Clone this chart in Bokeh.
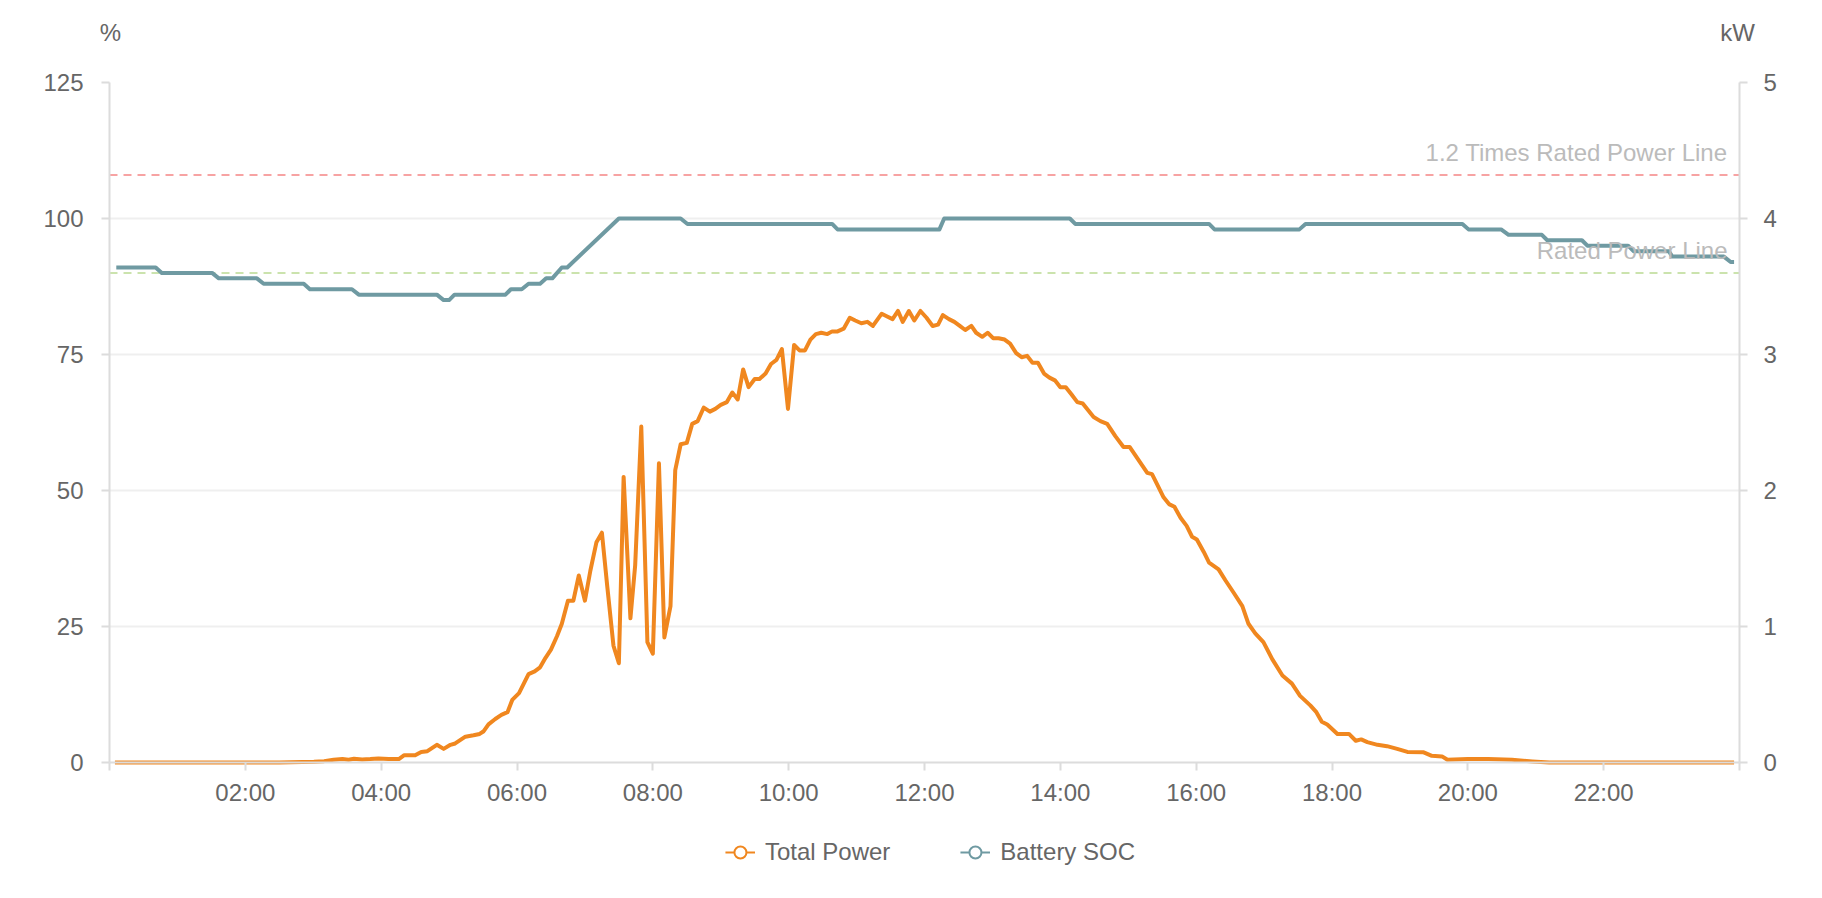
from bokeh.plotting import figure
from bokeh.layouts import column
from bokeh.models import (Range1d, LinearAxis, FixedTicker, Span, Label, Legend,
                          LegendItem, ColumnDataSource)
from bokeh.core.properties import value
from bokeh.embed import file_html
from bokeh.resources import INLINE

# ---------------- data ----------------
power_hours = [
    0.08, 2.50, 3.01, 3.16, 3.30, 3.43, 3.52, 3.60, 3.72, 3.84, 3.96, 4.11, 4.26, 4.34,
    4.50, 4.59, 4.68, 4.82, 4.92, 5.02, 5.09, 5.24, 5.36, 5.45, 5.51, 5.58, 5.68, 5.77,
    5.86, 5.93, 6.03, 6.10, 6.17, 6.26, 6.34, 6.42, 6.50, 6.59, 6.66, 6.75, 6.83, 6.91,
    7.00, 7.08, 7.17, 7.25, 7.33, 7.42, 7.50, 7.57, 7.67, 7.74, 7.83, 7.92, 8.00, 8.09,
    8.17, 8.26, 8.33, 8.41, 8.50, 8.58, 8.66, 8.75, 8.84, 8.92, 9.00, 9.09, 9.17, 9.25,
    9.33, 9.41, 9.50, 9.57, 9.66, 9.74, 9.82, 9.90, 9.99, 10.08, 10.16, 10.24, 10.32,
    10.40, 10.48, 10.57, 10.64, 10.72, 10.81, 10.90, 10.98, 11.07, 11.16, 11.24, 11.37,
    11.45, 11.53, 11.61, 11.68, 11.77, 11.85, 11.94, 12.03, 12.12, 12.20, 12.27, 12.36,
    12.44, 12.52, 12.60, 12.69, 12.76, 12.85, 12.93, 13.01, 13.09, 13.18, 13.26, 13.35,
    13.43, 13.51, 13.59, 13.67, 13.76, 13.84, 13.92, 14.00, 14.08, 14.16, 14.25, 14.33,
    14.41, 14.49, 14.59, 14.69, 14.81, 14.93, 15.02, 15.13, 15.28, 15.35, 15.42, 15.52,
    15.60, 15.68, 15.77, 15.86, 15.94, 16.01, 16.11, 16.19, 16.33, 16.43, 16.55, 16.68,
    16.77, 16.87, 16.99, 17.12, 17.27, 17.41, 17.53, 17.68, 17.77, 17.85, 17.93, 18.08,
    18.25, 18.35, 18.43, 18.52, 18.67, 18.81, 18.96, 19.11, 19.35, 19.47, 19.62, 19.70,
    20.00, 20.30, 20.65, 20.95, 21.20, 23.92,
]
power_kw = [
    0.0, 0.0, 0.005, 0.01, 0.02, 0.025, 0.02, 0.027, 0.022, 0.025, 0.03, 0.025, 0.025, 0.054,
    0.054, 0.078, 0.083, 0.13, 0.10, 0.13, 0.14, 0.19, 0.20, 0.21, 0.23, 0.28, 0.32, 0.35,
    0.37, 0.46, 0.51, 0.58, 0.65, 0.67, 0.70, 0.77, 0.83, 0.93, 1.02, 1.19, 1.19, 1.375,
    1.19, 1.41, 1.62, 1.69, 1.29, 0.86, 0.73, 2.10, 1.06, 1.45, 2.47, 0.885, 0.80, 2.20,
    0.92, 1.15, 2.15, 2.34, 2.35, 2.49, 2.51, 2.61, 2.58, 2.60, 2.63, 2.65, 2.72, 2.67,
    2.89, 2.76, 2.82, 2.82, 2.86, 2.93, 2.96, 3.04, 2.60, 3.07, 3.03, 3.03, 3.11,
    3.15, 3.16, 3.15, 3.17, 3.17, 3.19, 3.27, 3.25, 3.23, 3.24, 3.21, 3.30,
    3.28, 3.26, 3.32, 3.24, 3.32, 3.25, 3.32, 3.27, 3.21, 3.22, 3.29, 3.26,
    3.24, 3.21, 3.18, 3.21, 3.16, 3.13, 3.16, 3.12, 3.12, 3.11, 3.08, 3.01,
    2.98, 2.99, 2.94, 2.94, 2.86, 2.83, 2.81, 2.76, 2.76, 2.71, 2.65, 2.64,
    2.59, 2.54, 2.51, 2.49, 2.40, 2.32, 2.32, 2.24, 2.13, 2.12, 2.05, 1.95,
    1.90, 1.88, 1.80, 1.74, 1.66, 1.64, 1.55, 1.47, 1.42, 1.34, 1.25, 1.15,
    1.02, 0.95, 0.885, 0.76, 0.64, 0.58, 0.49, 0.42, 0.37, 0.30, 0.28, 0.21,
    0.21, 0.16, 0.17, 0.15, 0.13, 0.12, 0.10, 0.078, 0.075, 0.049, 0.045, 0.02,
    0.025, 0.025, 0.02, 0.008, 0.0, 0.0,
]

soc_hours = [
    0.10, 0.68, 0.77, 1.51, 1.61, 2.17, 2.27, 2.86, 2.95, 3.57, 3.67, 4.82, 4.92, 5.00,
    5.08, 5.83, 5.91, 6.07, 6.17, 6.34, 6.43, 6.52, 6.66, 6.74, 7.50, 8.41, 8.51, 10.64,
    10.72, 12.22, 12.29, 14.14, 14.22, 16.19, 16.27, 17.52, 17.61, 19.92, 20.01, 20.49,
    20.60, 21.09, 21.17, 21.68, 21.76, 22.36, 22.44, 22.96, 23.01, 23.77, 23.87, 23.92,
]
soc_pct = [
    91, 91, 90, 90, 89, 89, 88, 88, 87, 87, 86, 86, 85, 85,
    86, 86, 87, 87, 88, 88, 89, 89, 91, 91, 100, 100, 99, 99,
    98, 98, 100, 100, 99, 99, 98, 98, 99, 99, 98, 98,
    97, 97, 96, 96, 95, 95, 94, 94, 93, 93, 92, 92,
]

left_ticks = [0, 25, 50, 75, 100, 125]
right_ticks = [0, 1, 2, 3, 4, 5]
x_ticks = [0, 2, 4, 6, 8, 10, 12, 14, 16, 18, 20, 22, 24]
x_tick_labels = ["", "02:00", "04:00", "06:00", "08:00", "10:00", "12:00",
                 "14:00", "16:00", "18:00", "20:00", "22:00", ""]
series_names = ["Total Power", "Battery SOC"]
axis_units = ["%", "kW"]
rated_power_kw = 3.6
rated_factor = 1.2
mark_line_labels = ["1.2 Times Rated Power Line", "Rated Power Line"]

# ---------------- style / layout ----------------
FONT = "Liberation Sans"
ORANGE = "#f0871f"
TEAL = "#6f9aa2"
TXT = "#666666"
AXC = "#dcdcdc"
GRIDC = "#efefef"
RED = "#f7a3a3"
GREEN = "#cbe3ad"
FS = "24px"

W = 1806
BL, BR = 109, 67            # main frame borders (left/right)
HEAD_H = 62
MAIN_TOP, FRAME_H, MAIN_BOT = 20, 680, 50
FOOT_H = 66
px_per_h = (W - BL - BR) / 24.0

# ---------------- main chart ----------------
fig = figure(width=W, height=MAIN_TOP + FRAME_H + MAIN_BOT,
             x_range=Range1d(0, 24), y_range=Range1d(0, 125),
             output_backend="svg", toolbar_location=None,
             min_border_left=BL, min_border_right=BR, min_border_top=MAIN_TOP,
             min_border_bottom=MAIN_BOT)
fig.extra_y_ranges = {"kw": Range1d(0, 5)}
fig.outline_line_color = None
fig.xgrid.visible = False
fig.ygrid.grid_line_color = GRIDC
fig.ygrid.grid_line_width = 2
fig.ygrid.ticker = FixedTicker(ticks=left_ticks)


def style_axis(ax):
    ax.axis_line_color = AXC
    ax.axis_line_width = 2
    ax.major_tick_line_color = AXC
    ax.major_tick_line_width = 2
    ax.major_tick_in = 0
    ax.major_tick_out = 8
    ax.minor_tick_line_color = None
    ax.major_label_text_font = FONT
    ax.major_label_text_font_size = FS
    ax.major_label_text_color = TXT


xa = fig.xaxis[0]
style_axis(xa)
xa.ticker = FixedTicker(ticks=x_ticks)
xa.major_label_overrides = {t: lab for t, lab in zip(x_ticks, x_tick_labels)}
xa.major_label_standoff = 8

ya = fig.yaxis[0]
style_axis(ya)
ya.ticker = FixedTicker(ticks=left_ticks)
ya.major_label_standoff = 18

yr = LinearAxis(y_range_name="kw", ticker=FixedTicker(ticks=right_ticks))
style_axis(yr)
yr.major_label_standoff = 16
fig.add_layout(yr, "right")

red_kw = rated_power_kw * rated_factor
mark_lines = [(red_kw, RED, mark_line_labels[0]),
              (rated_power_kw, GREEN, mark_line_labels[1])]
for loc, col, lab in mark_lines:
    fig.add_layout(Span(location=loc, dimension="width", y_range_name="kw",
                        line_color=col, line_width=2, line_dash="8 6",
                        level="underlay"))

psrc = ColumnDataSource(data=dict(x=power_hours, y=power_kw))
ssrc = ColumnDataSource(data=dict(x=soc_hours, y=soc_pct))
fig.line("x", "y", source=psrc, y_range_name="kw", line_color=ORANGE,
         line_width=4, line_join="round", level="guide")
fig.line("x", "y", source=ssrc, line_color=TEAL, line_width=4, line_join="round",
         level="guide")

for loc, col, lab in mark_lines:
    fig.add_layout(Label(x=24, y=loc, y_range_name="kw", text=lab,
                         text_align="right", text_baseline="alphabetic",
                         x_offset=-12, y_offset=22, text_font=FONT,
                         text_font_size=FS, text_color="#bbbbbb", level="overlay"))

# ---------------- header with axis unit names ----------------
head = figure(width=W, height=HEAD_H,
              x_range=Range1d(-BL / px_per_h, 24 + BR / px_per_h),
              y_range=Range1d(-HEAD_H, 0),
              output_backend="svg", toolbar_location=None,
              x_axis_type=None, y_axis_type=None, frame_align=False,
              min_border_left=0, min_border_right=0, min_border_top=0,
              min_border_bottom=0)
head.outline_line_color = None
head.grid.visible = False
head.text(x=[0, 24], y=[-32, -32], text=axis_units, text_align="center",
          text_baseline="middle", x_offset=[1, -2],
          text_font=value(FONT), text_font_size=FS, text_color=TXT)

# ---------------- footer with the legend ----------------
foot = figure(width=W, height=FOOT_H, x_range=Range1d(0, 1), y_range=Range1d(-10, -9),
              output_backend="svg", toolbar_location=None,
              x_axis_type=None, y_axis_type=None, frame_align=False,
              min_border_left=54, min_border_right=0, min_border_top=0,
              min_border_bottom=0)
foot.outline_line_color = None
foot.grid.visible = False
l1 = foot.line("x", "y", source=psrc, line_color=ORANGE, line_width=2)
m1 = foot.scatter("x", "y", source=psrc, marker="circle", size=12,
                  line_color=ORANGE, line_width=2, fill_color="white")
l2 = foot.line("x", "y", source=ssrc, line_color=TEAL, line_width=2)
m2 = foot.scatter("x", "y", source=ssrc, marker="circle", size=12,
                  line_color=TEAL, line_width=2, fill_color="white")
legend = Legend(items=[LegendItem(label=series_names[0], renderers=[l1, m1]),
                       LegendItem(label=series_names[1], renderers=[l2, m2])],
                orientation="horizontal", location="top_center",
                glyph_width=30, glyph_height=32, label_standoff=10, spacing=70,
                padding=0, margin=24, border_line_color=None,
                background_fill_alpha=0,
                label_text_font=FONT, label_text_font_size=FS,
                label_text_color=TXT)
foot.add_layout(legend, "center")

p = column(head, fig, foot, spacing=0)
open("out.html", "w").write(file_html(p, INLINE))
